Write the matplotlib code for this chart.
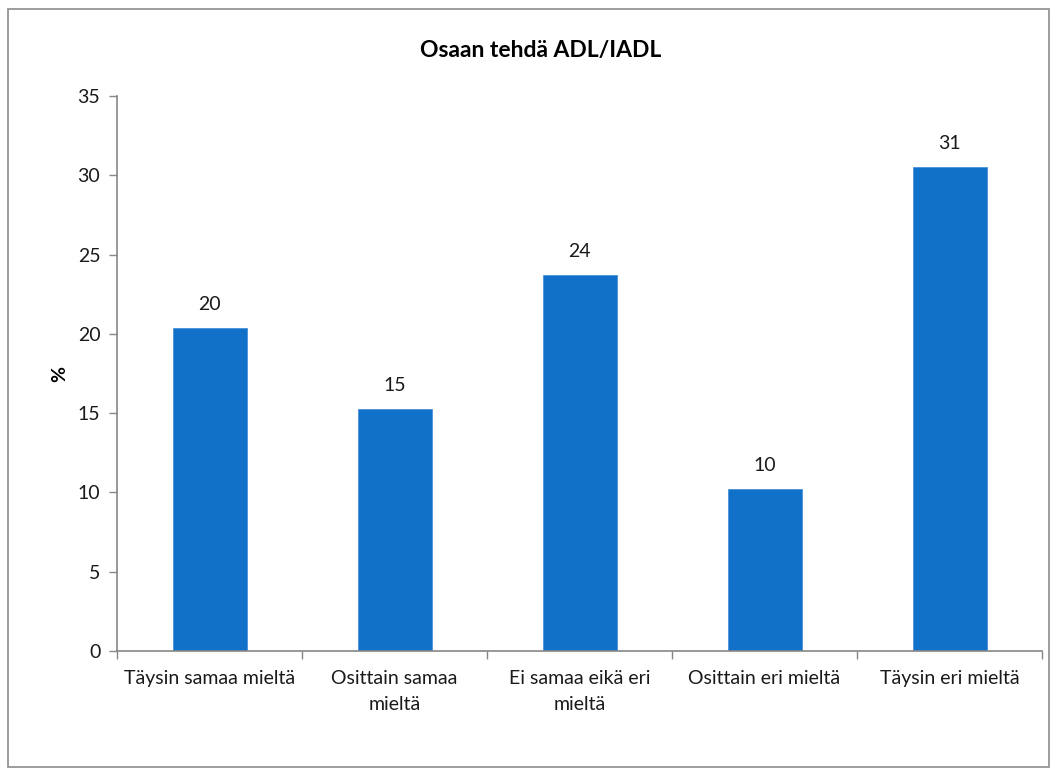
import matplotlib
matplotlib.use("Agg")
import matplotlib.pyplot as plt
from matplotlib.patches import Rectangle

categories = ["Täysin samaa mieltä", "Osittain samaa\nmieltä", "Ei samaa eikä eri\nmieltä",
              "Osittain eri mieltä", "Täysin eri mieltä"]
values = [20.35, 15.26, 23.7, 10.2, 30.5]
labels = ["20", "15", "24", "10", "31"]
yticks = [0, 5, 10, 15, 20, 25, 30, 35]

plt.rcParams['font.family'] = ['Lato', 'DejaVu Sans']

fig = plt.figure(figsize=(10.57, 7.76), dpi=100)
fig.patches.append(Rectangle((0.008, 0.011), 0.984, 0.977, transform=fig.transFigure,
                             fill=False, edgecolor='#8c8c8c', linewidth=1.2))
ax = fig.add_axes([117/1057, 1-651/776, 925/1057, 555/776])

x = list(range(len(categories)))
bars = ax.bar(x, values, width=0.4, color='#1170C8', edgecolor='#4A90D9', linewidth=0.6)
for xi, v, lab in zip(x, values, labels):
    ax.annotate(lab, (xi, v), xytext=(0, 11), textcoords='offset points',
                ha='center', va='bottom', fontsize=14, color='#1a1a1a')

ax.set_xlim(-0.5, len(categories) - 0.5)
ax.set_ylim(0, 35)
ax.set_yticks(yticks)
ax.set_yticklabels([str(t) for t in yticks], fontsize=14, color='#1a1a1a')
ax.set_xticks(x)
ax.set_xticklabels(categories, fontsize=14, color='#1a1a1a', linespacing=1.6)
ax.tick_params(axis='x', length=0, pad=14)
ax.set_xticks([i - 0.5 for i in range(len(categories) + 1)], minor=True)
ax.tick_params(axis='x', which='minor', length=6, color='#868686', width=1)
ax.tick_params(axis='y', length=6, color='#868686', width=1, pad=6)

for s in ['top', 'right']:
    ax.spines[s].set_visible(False)
for s in ['left', 'bottom']:
    ax.spines[s].set_color('#868686')
    ax.spines[s].set_linewidth(1.2)

ax.set_ylabel('%', fontsize=14, fontweight='bold', labelpad=7)
fig.text(541/1057, 1-50/776, 'Osaan tehdä ADL/IADL', ha='center', va='center',
         fontsize=16.5, fontweight='bold')

fig.savefig('out.png', dpi=100)
